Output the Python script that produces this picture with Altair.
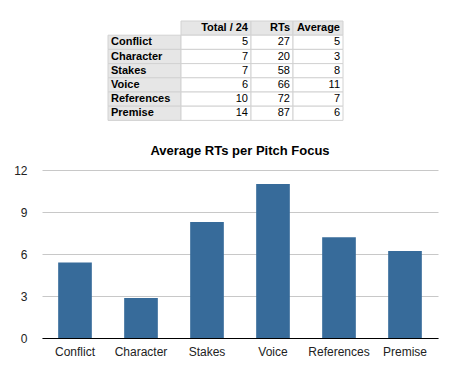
import altair as alt
import pandas as pd

# ---- data ----
categories = ["Conflict", "Character", "Stakes", "Voice", "References", "Premise"]
totals = [5, 7, 7, 6, 10, 14]
rts = [27, 20, 58, 66, 72, 87]
avg_rounded = [5, 3, 8, 11, 7, 6]
avg_values = [5.4, 2.86, 8.29, 11.0, 7.2, 6.21]
headers = ["Total / 24", "RTs", "Average"]
y_ticks = [0, 3, 6, 9, 12]

FONT = "Liberation Sans"
BAR = "#376b9a"
GREY = "#e6e6e6"
LINE = "#d2d2d2"

W = 396
TOP_H = 110
BOT_H = 168

# ---- table layout (pixel units inside the top panel) ----
col_edges = [66, 139, 209, 251, 301]
row_top = 8.0
row_h = 14.2
pad = 3

cells = []
for j, h in enumerate(headers):
    cells.append(dict(x=col_edges[j + 1], x2=col_edges[j + 2], y=row_top, y2=row_top + row_h,
                      fill=GREY, text=h, tx=col_edges[j + 2] - pad, kind="head"))
for i, c in enumerate(categories):
    y0 = row_top + row_h * (i + 1)
    cells.append(dict(x=col_edges[0], x2=col_edges[1], y=y0, y2=y0 + row_h,
                      fill=GREY, text=c, tx=col_edges[0] + pad, kind="label"))
    for j, v in enumerate([totals[i], rts[i], avg_rounded[i]]):
        cells.append(dict(x=col_edges[j + 1], x2=col_edges[j + 2], y=y0, y2=y0 + row_h,
                          fill="#ffffff", text=str(v), tx=col_edges[j + 2] - pad, kind="num"))
tdf = pd.DataFrame(cells)
tdf["ym"] = (tdf["y"] + tdf["y2"]) / 2

xs = alt.Scale(domain=[0, W])
ys = alt.Scale(domain=[0, TOP_H], reverse=True)

base = alt.Chart(tdf)
rects = base.mark_rect(stroke=LINE, strokeWidth=1).encode(
    x=alt.X("x:Q", scale=xs, axis=None), x2="x2",
    y=alt.Y("y:Q", scale=ys, axis=None), y2="y2",
    fill=alt.Fill("fill:N", scale=None),
)
label_txt = base.transform_filter(alt.datum.kind == "label").mark_text(
    align="left", baseline="middle", font=FONT, fontSize=11, fontWeight="bold", color="#000"
).encode(x=alt.X("tx:Q", scale=xs, axis=None), y=alt.Y("ym:Q", scale=ys, axis=None), text="text:N")
head_txt = base.transform_filter(alt.datum.kind == "head").mark_text(
    align="right", baseline="middle", font=FONT, fontSize=11, fontWeight="bold", color="#000"
).encode(x=alt.X("tx:Q", scale=xs, axis=None), y=alt.Y("ym:Q", scale=ys, axis=None), text="text:N")
num_txt = base.transform_filter(alt.datum.kind == "num").mark_text(
    align="right", baseline="middle", font=FONT, fontSize=11, color="#000"
).encode(x=alt.X("tx:Q", scale=xs, axis=None), y=alt.Y("ym:Q", scale=ys, axis=None), text="text:N")

table = alt.layer(rects, label_txt, head_txt, num_txt).properties(width=W, height=TOP_H)

# ---- bar chart ----
bdf = pd.DataFrame({"cat": categories, "avg": avg_values})
bars = alt.Chart(bdf).mark_bar(color=BAR).encode(
    x=alt.X("cat:N", sort=categories, title=None,
            scale=alt.Scale(paddingInner=0.49, paddingOuter=0.245),
            axis=alt.Axis(labelAngle=0, ticks=False, domainColor="#000", domainWidth=1,
                          labelFont=FONT, labelFontSize=12, labelColor="#222", labelPadding=8,
                          grid=False)),
    y=alt.Y("avg:Q", title=None, scale=alt.Scale(domain=[0, 12], nice=False),
            axis=alt.Axis(values=y_ticks, ticks=False, domain=False, gridColor="#c8c8c8",
                          gridWidth=1, labelFont=FONT, labelFontSize=12, labelColor="#222",
                          labelPadding=15)),
).properties(
    width=W, height=BOT_H,
    title=alt.TitleParams("Average RTs per Pitch Focus", font=FONT, fontSize=13,
                          fontWeight="bold", color="#000", anchor="middle", offset=6),
)

chart = alt.vconcat(table, bars, spacing=22).configure_view(stroke=None)

chart.save("out.html", embed_options={"renderer": "svg", "actions": False})
